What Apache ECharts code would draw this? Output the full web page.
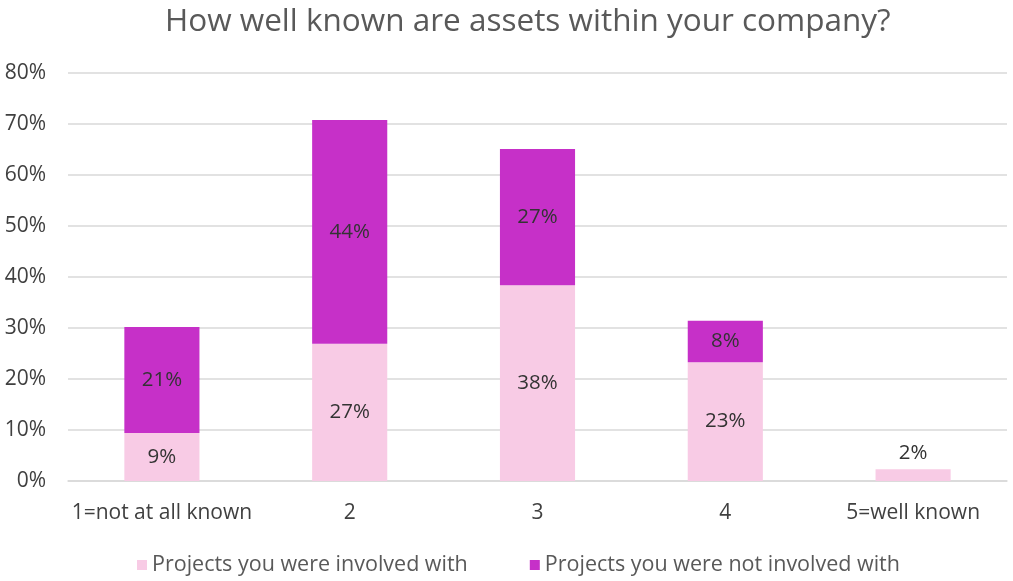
<!DOCTYPE html>
<html style="width: 100%; height: 100%">
<head>
    <meta charset="utf-8">
    <script src="https://cdn.jsdelivr.net/npm/echarts@6/dist/echarts.min.js"></script>
</head>
<body style="width: 100%; height: 100%; margin: 0; background: #fff">
<div id="container" style="width: 100%; height: 100%"></div>

<script type="text/javascript">
    var categories = ['1=not at all known', '2', '3', '4', '5=well known'];
    var involved = [9.4, 26.9, 38.4, 23.3, 2.3];
    var notInvolved = [20.8, 43.9, 26.7, 8.1, 0];
    var yTicks = [0, 10, 20, 30, 40, 50, 60, 70, 80];

    var fontFamily = '"Open Sans", "Noto Sans", sans-serif';
    var textColor = '#404040';

    var myChart = echarts.init(document.getElementById('container'));

    function pct(p) {
        return p.value > 0 ? Math.round(p.value) + '%' : '';
    }

    var involvedData = involved.map(function (v) {
        // tiny bar: Excel pushes the label above it
        if (v < 5) {
            return {value: v, label: {position: 'top', distance: 6}};
        }
        return v;
    });

    var option = {
        textStyle: {fontFamily: fontFamily},
        title: {
            text: 'How well known are assets within your company?',
            left: 160,
            top: 1,
            textStyle: {fontSize: 31.5, fontWeight: 'normal', color: '#595959', fontFamily: fontFamily}
        },
        legend: {
            bottom: 0,
            left: 132,
            itemWidth: 10,
            itemHeight: 10,
            itemGap: 62,
            icon: 'rect',
            textStyle: {fontSize: 21.5, color: '#595959', fontFamily: fontFamily},
            data: ['Projects you were involved with', 'Projects you were not involved with']
        },
        grid: {left: 68, right: 6, top: 73, bottom: 100},
        xAxis: {
            type: 'category',
            data: categories,
            axisTick: {show: false},
            axisLine: {lineStyle: {color: '#d9d9d9', width: 1.5}},
            axisLabel: {fontSize: 21, color: textColor, margin: 22, interval: 0, fontFamily: fontFamily}
        },
        yAxis: {
            type: 'value',
            min: yTicks[0],
            max: yTicks[yTicks.length - 1],
            interval: 10,
            axisLine: {show: false},
            axisTick: {show: false},
            splitLine: {lineStyle: {color: '#d9d9d9', width: 1.5}},
            axisLabel: {
                fontSize: 21, color: textColor, margin: 22, fontFamily: fontFamily,
                formatter: function (v) { return v + '%'; }
            }
        },
        series: [
            {
                name: 'Projects you were involved with',
                type: 'bar',
                stack: 'total',
                barWidth: '40%',
                itemStyle: {color: '#f8cbe5'},
                label: {show: true, position: 'inside', fontSize: 20.5, color: '#333333', formatter: pct},
                data: involvedData
            },
            {
                name: 'Projects you were not involved with',
                type: 'bar',
                stack: 'total',
                barWidth: '40%',
                itemStyle: {color: '#c630c8'},
                label: {show: true, position: 'inside', fontSize: 20.5, color: '#333333', formatter: pct},
                data: notInvolved
            }
        ]
    };
    myChart.setOption(option);
</script>
</body>
</html>
